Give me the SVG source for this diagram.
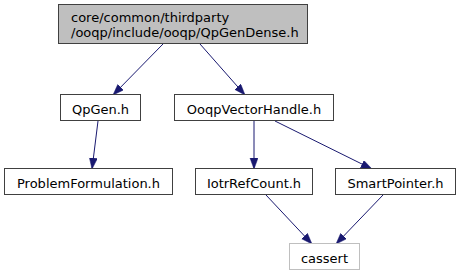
<svg xmlns="http://www.w3.org/2000/svg" width="460" height="276" viewBox="0 0 460 276">
  <style>
    .node rect { fill: #ffffff; stroke: #404040; stroke-width: 1; }
    .node.root rect { fill: #bfbfbf; }
    .node.ext rect { stroke: #bfbfbf; }
    .node text { font-family: "DejaVu Sans", "Liberation Sans", sans-serif; font-size: 13px; fill: #000000; }
    .node text.c { text-anchor: middle; }
    .edges path { fill: none; stroke: #191970; stroke-width: 1; }
  </style>
  <defs>
    <marker id="arrow" markerUnits="userSpaceOnUse" markerWidth="12" markerHeight="9" refX="11" refY="4" orient="auto">
      <path d="M0,0 L11,4 L0,8 z" fill="#191970" stroke="#191970" stroke-width="0.5"/>
    </marker>
  </defs>

  <g class="edges">
    <path d="M163,44 L113,95" marker-end="url(#arrow)"/>
    <path d="M200,44 L245,95" marker-end="url(#arrow)"/>
    <path d="M98,121 L92,169" marker-end="url(#arrow)"/>
    <path d="M254,121 L254,169" marker-end="url(#arrow)"/>
    <path d="M275,121 L372,169" marker-end="url(#arrow)"/>
    <path d="M266,195 L312,244" marker-end="url(#arrow)"/>
    <path d="M383,195 L336,244" marker-end="url(#arrow)"/>
  </g>

  <g id="node-qpgendense" class="node root">
    <rect x="58.5" y="4.5" width="249" height="39"/>
    <text x="71" y="22">core/common/thirdparty</text>
    <text x="71" y="37">/ooqp/include/ooqp/QpGenDense.h</text>
  </g>

  <g id="node-qpgen" class="node">
    <rect x="60.5" y="94.5" width="80" height="26"/>
    <text class="c" x="100.5" y="113.5">QpGen.h</text>
  </g>

  <g id="node-ooqpvectorhandle" class="node">
    <rect x="174.5" y="94.5" width="159" height="26"/>
    <text class="c" x="254" y="113.5">OoqpVectorHandle.h</text>
  </g>

  <g id="node-problemformulation" class="node">
    <rect x="4.5" y="168.5" width="168" height="26"/>
    <text class="c" x="88.5" y="187.5">ProblemFormulation.h</text>
  </g>

  <g id="node-iotrrefcount" class="node">
    <rect x="195.5" y="168.5" width="117" height="26"/>
    <text class="c" x="254" y="187.5">IotrRefCount.h</text>
  </g>

  <g id="node-smartpointer" class="node">
    <rect x="335.5" y="168.5" width="120" height="26"/>
    <text class="c" x="395.5" y="187.5">SmartPointer.h</text>
  </g>

  <g id="node-cassert" class="node ext">
    <rect x="289.5" y="243.5" width="70" height="26"/>
    <text class="c" x="324.5" y="262.5">cassert</text>
  </g>
</svg>
